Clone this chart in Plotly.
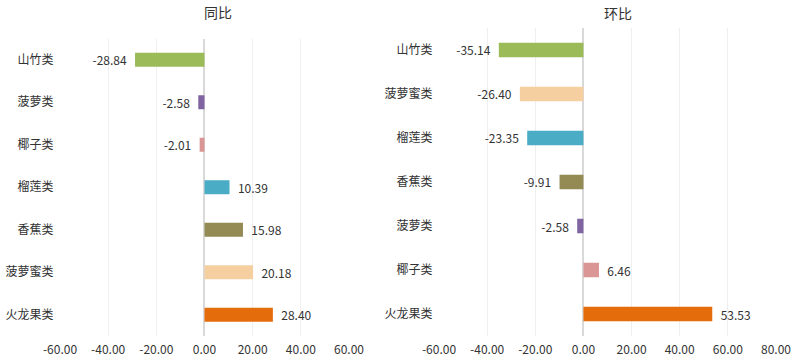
import plotly.graph_objects as go

# 同比 (year-over-year)
yoy_categories = ["山竹类", "菠萝类", "椰子类", "榴莲类", "香蕉类", "菠萝蜜类", "火龙果类"]
yoy_values = [-28.84, -2.58, -2.01, 10.39, 15.98, 20.18, 28.40]

# 环比 (month-over-month)
mom_categories = ["山竹类", "菠萝蜜类", "榴莲类", "香蕉类", "菠萝类", "椰子类", "火龙果类"]
mom_values = [-35.14, -26.40, -23.35, -9.91, -2.58, 6.46, 53.53]

# tick labels
yoy_ticks = [-60, -40, -20, 0, 20, 40, 60]
yoy_ticklabels = ["-60.00", "-40.00", "-20.00", "0.00", "20.00", "40.00", "60.00"]
mom_ticks = [-60, -40, -20, 0, 20, 40, 60, 80]
mom_ticklabels = ["-60.00", "-40.00", "-20.00", "0.00", "20.00", "40.00", "60.00", "80.00"]

color_map = {
    "山竹类": "#9BBB59",
    "菠萝类": "#8064A2",
    "椰子类": "#DA9694",
    "榴莲类": "#4BACC6",
    "香蕉类": "#948A54",
    "菠萝蜜类": "#F5CFA0",
    "火龙果类": "#E46C0A",
}

FONT = "Noto Sans CJK SC, Microsoft YaHei, sans-serif"


def labels(vals):
    return [("%.2f  " % v) if v < 0 else ("  %.2f" % v) for v in vals]


fig = go.Figure()
fig.add_trace(go.Bar(
    x=yoy_values, y=yoy_categories, orientation="h",
    marker=dict(color=[color_map[c] for c in yoy_categories], line=dict(width=0)),
    width=0.33, text=labels(yoy_values), textposition="outside", constraintext="none",
    textfont=dict(size=12, color="#333333", family=FONT),
    cliponaxis=False, xaxis="x", yaxis="y", showlegend=False,
))
fig.add_trace(go.Bar(
    x=mom_values, y=mom_categories, orientation="h",
    marker=dict(color=[color_map[c] for c in mom_categories], line=dict(width=0)),
    width=0.33, text=labels(mom_values), textposition="outside", constraintext="none",
    textfont=dict(size=12, color="#333333", family=FONT),
    cliponaxis=False, xaxis="x2", yaxis="y2", showlegend=False,
))

xcommon = dict(
    showgrid=True, gridcolor="#EFEFEF", gridwidth=1,
    zeroline=True, zerolinecolor="#D9D9D9", zerolinewidth=2,
    showline=False, ticks="", automargin=False,
    ticklabelstandoff=5,
    tickfont=dict(size=12, color="#333333", family=FONT),
)
ycommon = dict(
    autorange="reversed", showgrid=False, zeroline=False, showline=False, ticks="",
    automargin=False,
    tickfont=dict(size=12, color="#333333", family=FONT), ticksuffix="  ",
)

fig.update_layout(
    width=798, height=362,
    margin=dict(l=0, r=0, t=0, b=0),
    paper_bgcolor="white", plot_bgcolor="white",
    font=dict(family=FONT, color="#333333"),
    xaxis=dict(domain=[0.0752, 0.4373], range=[-60, 60], anchor="y",
               tickvals=yoy_ticks, ticktext=yoy_ticklabels, **xcommon),
    yaxis=dict(domain=[0.0718, 0.8936], anchor="x", **ycommon),
    xaxis2=dict(domain=[0.5501, 0.9724], range=[-60, 80], anchor="y2",
                tickvals=mom_ticks, ticktext=mom_ticklabels, **xcommon),
    yaxis2=dict(domain=[0.0718, 0.9227], anchor="x2", **ycommon),
    annotations=[
        dict(text="同比", x=218 / 798, y=1 - 12 / 362, xref="paper", yref="paper",
             showarrow=False, xanchor="center", yanchor="middle",
             font=dict(size=14, color="#333333", family=FONT)),
        dict(text="环比", x=617.5 / 798, y=1 - 13 / 362, xref="paper", yref="paper",
             showarrow=False, xanchor="center", yanchor="middle",
             font=dict(size=14, color="#333333", family=FONT)),
    ],
)

fig.write_html(
    "out.html",
    config={"displayModeBar": False},
    post_script="document.body.style.margin='0';document.body.style.overflow='hidden';",
)
